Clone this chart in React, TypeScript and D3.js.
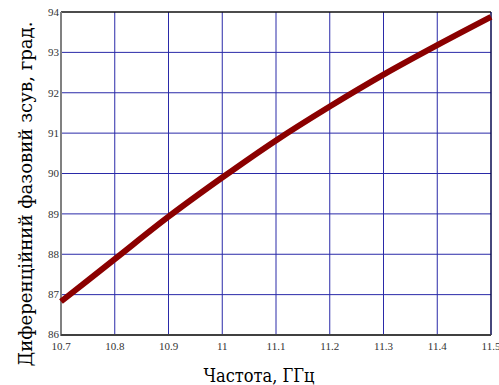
import React from "react";
import * as d3 from "d3";

const freqs = [10.7, 10.8, 10.9, 11.0, 11.1, 11.2, 11.3, 11.4, 11.5];
const phase = [86.83, 87.88, 88.93, 89.9, 90.82, 91.66, 92.45, 93.18, 93.88];
const xTicks = [10.7, 10.8, 10.9, 11.0, 11.1, 11.2, 11.3, 11.4, 11.5];
const xTickLabels = ["10.7", "10.8", "10.9", "11", "11.1", "11.2", "11.3", "11.4", "11.5"];
const yTicks = [86, 87, 88, 89, 90, 91, 92, 93, 94];
const xTitle = "Частота, ГГц";
const yTitle = "Диференційний фазовий зсув, град.";

export default function App() {
  const W = 499, H = 385;
  const L = 61, R = 491, T = 12, B = 335;
  const x = d3.scaleLinear().domain([10.7, 11.5]).range([L, R]);
  const y = d3.scaleLinear().domain([86, 94]).range([B, T]);
  const data = freqs.map((f, i) => [f, phase[i]] as [number, number]);
  const line = d3.line<[number, number]>().x(d => x(d[0])).y(d => y(d[1])).curve(d3.curveMonotoneX);
  const numFont = "'Liberation Serif', serif";
  const titleFont = "'DejaVu Serif Condensed', 'DejaVu Serif', serif";
  return (
    <svg width={W} height={H} style={{ position: "absolute", left: 0, top: 0 }}>
      <rect x={0} y={0} width={W} height={H} fill="#fff" />
      {xTicks.slice(1, -1).map(t => (
        <line key={"gx" + t} x1={x(t)} x2={x(t)} y1={T} y2={B} stroke="#2a2aa8" strokeWidth={1} />
      ))}
      {yTicks.slice(1, -1).map(t => (
        <line key={"gy" + t} x1={L} x2={R} y1={y(t)} y2={y(t)} stroke="#2a2aa8" strokeWidth={1} />
      ))}
      <line x1={L} x2={R} y1={T} y2={T} stroke="#111" strokeWidth={1.5} />
      <line x1={R} x2={R} y1={T} y2={B} stroke="#0a0a50" strokeWidth={1.5} />
      <line x1={L} x2={L} y1={T} y2={B + 1} stroke="#808080" strokeWidth={2} />
      <line x1={L} x2={R} y1={B} y2={B} stroke="#404040" strokeWidth={2} />
      <path d={line(data) || ""} fill="none" stroke="#8b0000" strokeWidth={6} />
      {yTicks.map(t => (
        <text key={"ty" + t} x={L - 2} y={y(t) - (t === 86 ? 1 : 0)} dy="0.35em" textAnchor="end" fontSize={11} fill="#333" style={{ fontFamily: numFont }}>{t}</text>
      ))}
      {xTicks.map((t, i) => (
        <text key={"tx" + t} x={x(t)} y={B + 15} textAnchor="middle" fontSize={11} fill="#333" style={{ fontFamily: numFont }}>{xTickLabels[i]}</text>
      ))}
      <text x={259} y={382} textAnchor="middle" fontSize={19} fill="#000" textLength={111} lengthAdjust="spacingAndGlyphs" style={{ fontFamily: titleFont }}>{xTitle}</text>
      <text transform={`translate(32, 194) rotate(-90)`} textAnchor="middle" fontSize={19} fill="#000" textLength={345} lengthAdjust="spacingAndGlyphs" style={{ fontFamily: titleFont }}>{yTitle}</text>
    </svg>
  );
}
